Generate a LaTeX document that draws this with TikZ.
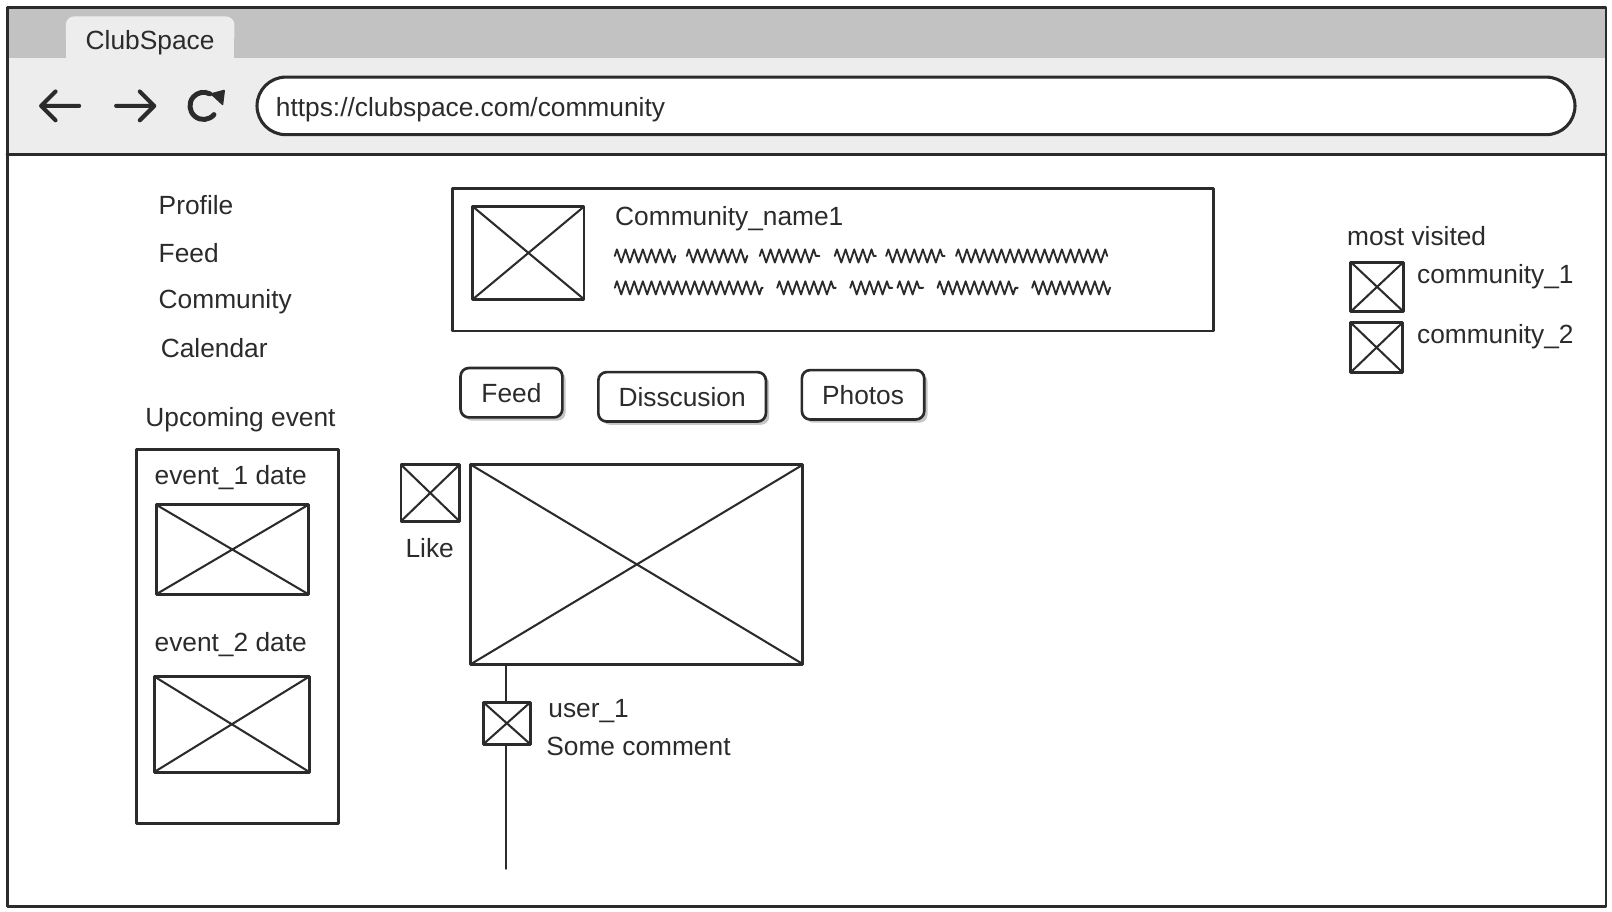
\documentclass[tikz,border=0pt]{standalone}
\usepackage{fontspec}
\setmainfont{Liberation Sans}
\usetikzlibrary{decorations.pathmorphing,arrows.meta,shadows}
\definecolor{ink}{HTML}{2B2B2B}
\definecolor{barGray}{HTML}{C2C2C2}
\definecolor{toolGray}{HTML}{EDEDED}
\definecolor{shadowGray}{HTML}{C6C6C6}
\begin{document}
\begin{tikzpicture}[x=0.5pt,y=-0.5pt, line join=round, line cap=round,
  every node/.style={font=\fontsize{12.8}{15}\selectfont, text=ink},
  lbl/.style={anchor=base west, inner sep=0pt},
  frame/.style={draw=ink, line width=1.4pt, inner sep=0pt},
  imgph/.style={draw=ink, fill=white, line width=1.4pt, inner sep=0pt,
    path picture={\draw[ink, line width=1pt]
      (path picture bounding box.north west) -- (path picture bounding box.south east)
      (path picture bounding box.south west) -- (path picture bounding box.north east);}},
  tabbtn/.style={draw=ink, fill=white, line width=1.3pt, rounded corners=4pt, inner sep=0pt,
    drop shadow={shadow xshift=1.6pt, shadow yshift=-1.6pt, fill=shadowGray, opacity=1}},
  scrib/.style={draw=ink, line width=0.9pt, decorate,
    decoration={zigzag, segment length=4.2pt, amplitude=3.2pt}},
  icon/.style={draw=ink, line width=2pt, line cap=round}
]
\useasboundingbox (0,0) rectangle (1568,887);
% browser chrome
\fill[white] (7,7) rectangle (1562,882);
\fill[barGray] (7,7) rectangle (1562,56);
\fill[toolGray] (7,56) rectangle (1562,150);
\fill[toolGray, rounded corners=4pt] (64,16) rectangle (228,44);
\fill[toolGray] (64,32) rectangle (228,57);
\draw[ink, line width=1.6pt] (7,150) -- (1562,150);
\draw[ink, line width=1.3pt] (7,7) rectangle (1562,882);
\node[anchor=base, inner sep=0pt] (tabtitle) at (146,48) {ClubSpace};
% nav icons
\draw[icon] (40,103) -- (77,103) (54,89) -- (40,103) -- (54,117);
\draw[icon] (113,103) -- (150,103) (136,89) -- (150,103) -- (136,117);
\draw[icon, line width=2.4pt] (198,103) ++(-40:6.6pt) arc[start angle=-40, end angle=-298, radius=6.6pt];
\fill[ink, rounded corners=0.6pt] (204,91) -- (219,87) -- (217,103) -- cycle;
% url bar
\node[draw=ink, fill=white, line width=1.5pt, rounded corners=14pt, minimum width=641pt, minimum height=28pt] (urlbar) at (891,103) {};
\node[lbl] (urltext) at (268,113) {https://clubspace.com/community};
% left menu
\node[lbl] (mprofile) at (154,208.5) {Profile};
\node[lbl] (mfeed) at (154,255.5) {Feed};
\node[lbl] (mcommunity) at (154,300) {Community};
\node[lbl] (mcalendar) at (156,347.5) {Calendar};
\node[lbl] (upcoming) at (141,415) {Upcoming event};
\node[frame, minimum width=98pt, minimum height=182pt] (eventbox) at (231,619) {};
\node[lbl] (ev1) at (150,471) {event\_1 date};
\node[imgph, minimum width=74pt, minimum height=43.5pt] (ev1img) at (226,534.5) {};
\node[lbl] (ev2) at (150,634) {event\_2 date};
\node[imgph, minimum width=75.5pt, minimum height=46.5pt] (ev2img) at (225.5,704.5) {};
% community header
\node[frame, minimum width=370pt, minimum height=69.5pt] (header) at (810,252.5) {};
\node[imgph, minimum width=54pt, minimum height=45pt] (commimg) at (514,246) {};
\node[lbl] (commname) at (598,219) {Community\_name1};
\draw[scrib] (598,249) -- (657,249);
\draw[scrib] (668,249) -- (727,249);
\draw[scrib] (739,249) -- (797,249);
\draw[scrib] (812,249) -- (852,249);
\draw[scrib] (862,249) -- (919,249);
\draw[scrib] (930,249) -- (1077,249);
\draw[scrib] (598,280) -- (742,280);
\draw[scrib] (756,280) -- (813,280);
\draw[scrib] (827,280) -- (868,280);
\draw[scrib] (873,280) -- (898,280);
\draw[scrib] (912,280) -- (990,280);
\draw[scrib] (1004,280) -- (1080,280);
% tab buttons
\node[tabbtn, minimum width=49.5pt, minimum height=24pt] (bfeed) at (497.5,382) {Feed};
\node[tabbtn, minimum width=81.5pt, minimum height=24pt] (bdisc) at (663.5,386) {Disscusion};
\node[tabbtn, minimum width=59.5pt, minimum height=24pt] (bphotos) at (839.5,384) {Photos};
% post
\node[imgph, minimum width=28.5pt, minimum height=27.5pt] (likeimg) at (418.5,479.5) {};
\node[anchor=base, inner sep=0pt] (liketext) at (418,542) {Like};
\node[imgph, minimum width=161.5pt, minimum height=97pt] (bigimg) at (619.5,549) {};
\coordinate (threadend) at (492,845);
\draw[ink, line width=1.1pt] (bigimg.south -| threadend) -- (threadend);
\node[imgph, minimum width=23pt, minimum height=20.5pt] (userimg) at (493,703.5) {};
\node[lbl] (username) at (533,698) {user\_1};
\node[lbl] (comment) at (531,735) {Some comment};
% most visited
\node[lbl] (mostvisited) at (1310,239) {most visited};
\node[imgph, minimum width=25.5pt, minimum height=24pt] (mv1img) at (1339.5,279) {};
\node[lbl] (mv1) at (1378,276) {community\_1};
\node[imgph, minimum width=25pt, minimum height=24pt] (mv2img) at (1339,338) {};
\node[lbl] (mv2) at (1378,334) {community\_2};
\end{tikzpicture}
\end{document}
